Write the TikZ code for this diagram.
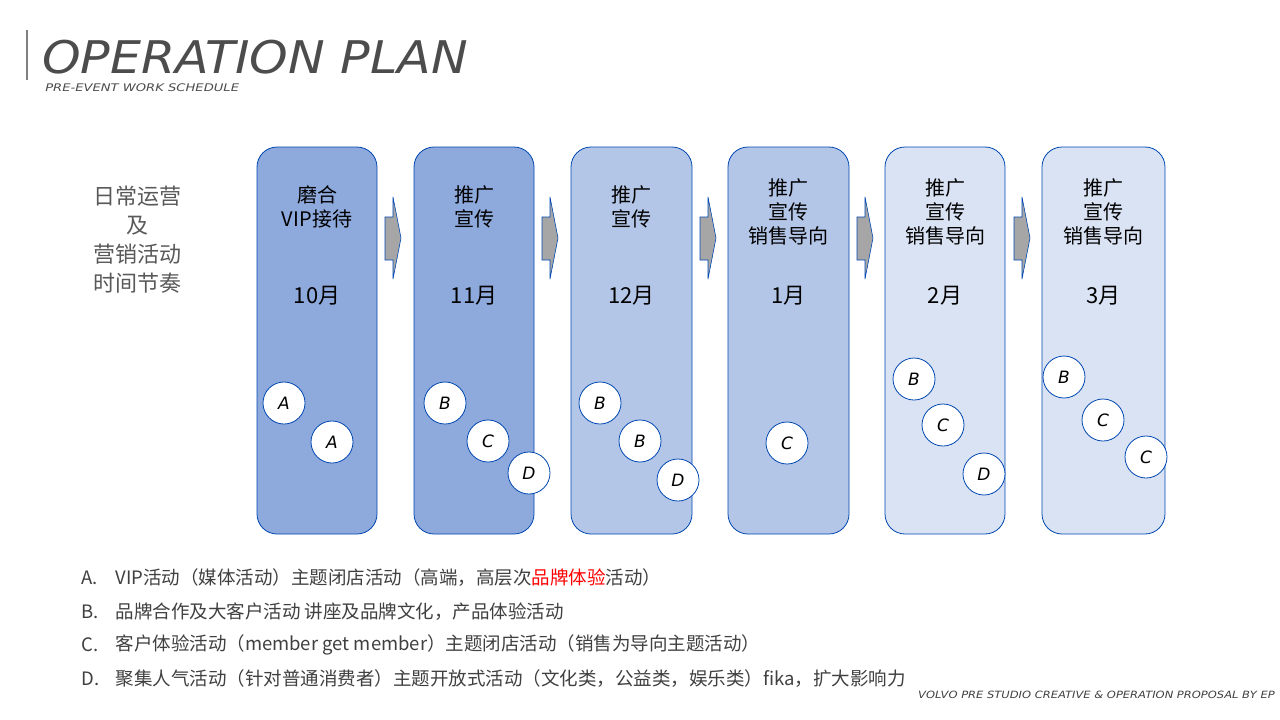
\documentclass[tikz,border=0pt]{standalone}
\usepackage{fontspec}
\setmainfont{Noto Sans CJK SC}
\newfontfamily\titlef{DejaVu Sans}
\newfontfamily\cjk{Noto Sans CJK SC}
\begin{document}
\begin{tikzpicture}[x=1pt,y=-1pt,
 box/.style={draw=blue!60!cyan!70!black,line width=0.8pt,rounded corners=20pt},
 ltr/.style={circle,draw=blue!60!cyan!70!black,fill=white,line width=0.8pt,minimum size=42pt,inner sep=0pt,font=\titlef\itshape\fontsize{17}{17}\selectfont},
 bt/.style={align=center,font=\fontsize{20}{24}\selectfont,text=black},
 mt/.style={font=\fontsize{22}{22}\selectfont,text=black},
 arr/.style={draw=blue!60!cyan!70!black,fill=gray!70,line width=0.6pt},
 lg/.style={anchor=west,font=\fontsize{18.5}{18.5}\selectfont,text=black!75}]
\definecolor{c1}{HTML}{8EA9DB}\definecolor{c2}{HTML}{B4C6E7}\definecolor{c3}{HTML}{DAE3F3}
\clip (0,0) rectangle (1280,720);
\fill[white] (0,0) rectangle (1280,720);
\draw[gray,line width=1.2pt] (27,30) -- (27,80);
\node[anchor=west,text=black!70,inner sep=0pt,xscale=1.09,font=\titlef\itshape\fontsize{45}{45}\selectfont] (title) at (42,57) {OPERATION PLAN};
\node[anchor=west,text=black!70,inner sep=0pt,xscale=1.25,font=\titlef\itshape\fontsize{10.5}{10.5}\selectfont] (sub) at (45,88) {PRE-EVENT WORK SCHEDULE};
\node[align=center,text=black!65,font=\fontsize{22}{29}\selectfont] (left) at (137,240) {日常运营\\及\\营销活动\\时间节奏};
% boxes
\foreach \i/\xa/\xb/\c in {1/257/377/c1,2/414/534/c1,3/571/692/c2,4/728/849/c2,5/885/1005/c3,6/1042/1165/c3}{
  \draw[box,fill=\c] (\xa,147) rectangle (\xb,534);
  \coordinate (b\i) at ({(\xa+\xb)/2},0);
}
\node[bt] (t1) at (b1|-0,207) {磨合\\VIP接待};
\node[bt] (t2) at (b2|-0,207) {推广\\宣传};
\node[bt] (t3) at (b3|-0,207) {推广\\宣传};
\node[bt] (t4) at (b4|-0,212) {推广\\宣传\\销售导向};
\node[bt] (t5) at (b5|-0,212) {推广\\宣传\\销售导向};
\node[bt] (t6) at (b6|-0,212) {推广\\宣传\\销售导向};
\node[mt] (m1) at (b1|-0,296) {10月};
\node[mt] (m2) at (b2|-0,296) {11月};
\node[mt] (m3) at (b3|-0,296) {12月};
\node[mt] (m4) at (b4|-0,296) {1月};
\node[mt] (m5) at (b5|-0,296) {2月};
\node[mt] (m6) at (b6|-0,296) {3月};
% arrows
\foreach \x in {385,542,700,857,1014}{
  \draw[arr] (\x,217) -- (\x+8,217) -- (\x+8,197) -- (\x+16,238) -- (\x+8,279) -- (\x+8,260) -- (\x,260) -- cycle;
}
% circles
\node[ltr] (c1) at (284,403) {A};
\node[ltr] (c2) at (332,442) {A};
\node[ltr] (c3) at (445,403) {B};
\node[ltr] (c4) at (488,441) {C};
\node[ltr] (c5) at (529,473) {D};
\node[ltr] (c6) at (600,403) {B};
\node[ltr] (c7) at (640,441) {B};
\node[ltr] (c8) at (678,480) {D};
\node[ltr] (c9) at (787,443) {C};
\node[ltr] (c10) at (914,379) {B};
\node[ltr] (c11) at (943,425) {C};
\node[ltr] (c12) at (984,474) {D};
\node[ltr] (c13) at (1064,377) {B};
\node[ltr] (c14) at (1103,420) {C};
\node[ltr] (c15) at (1146,457) {C};
% legend
\node[lg] (la) at (78,578) {A.};
\node[lg] (lb) at (78,612) {B.};
\node[lg] (lc) at (78,645) {C.};
\node[lg] (ld) at (78,679) {D.};
\node[lg] (ta) at (112,578) {VIP活动（媒体活动）主题闭店活动（高端，高层次\textcolor{red}{品牌体验}活动）};
\node[lg] (tb) at (112,612) {品牌合作及大客户活动 讲座及品牌文化，产品体验活动};
\node[lg] (tc) at (112,645) {客户体验活动（member get member）主题闭店活动（销售为导向主题活动）};
\node[lg] (td) at (112,679) {聚集人气活动（针对普通消费者）主题开放式活动（文化类，公益类，娱乐类）fika，扩大影响力};
\node[anchor=west,inner sep=0pt,xscale=1.15,text=black!75,font=\titlef\itshape\fontsize{10}{10}\selectfont] (foot) at (918,695) {VOLVO PRE STUDIO CREATIVE \& OPERATION PROPOSAL BY EP};
\end{tikzpicture}
\end{document}
